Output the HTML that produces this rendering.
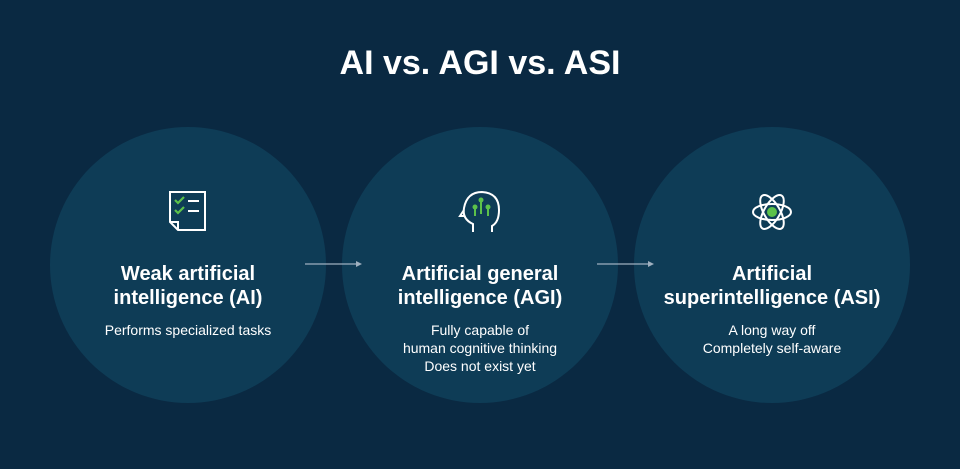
<!DOCTYPE html>
<html><head><style>
html,body{margin:0;padding:0}
body{width:960px;height:469px;background:#0a2942;position:relative;overflow:hidden;font-family:"Liberation Sans",sans-serif;color:#fff}
.title{position:absolute;top:44px;left:0;width:960px;text-align:center;font-size:34px;font-weight:bold;letter-spacing:0px}
.c{position:absolute;top:127px;width:276px;height:276px;border-radius:50%;background:#0e3c56}
.h{position:absolute;top:262px;width:300px;text-align:center;font-size:20px;font-weight:bold;line-height:24px}
.p{position:absolute;width:300px;text-align:center;font-size:14px;line-height:18px}
.ic{position:absolute}
</style></head><body>
<div class="title">AI vs. AGI vs. ASI</div>
<div class="c" style="left:50px"></div>
<div class="c" style="left:342px"></div>
<div class="c" style="left:634px"></div>
<svg width="960" height="469" style="position:absolute;left:0;top:0">
<g stroke="#9fb0bf" stroke-width="1.3" fill="#9fb0bf">
<line x1="305" y1="264" x2="358" y2="264"/><path d="M362 264 L356 261 L356 267Z" stroke="none"/>
<line x1="597" y1="264" x2="650" y2="264"/><path d="M654 264 L648 261 L648 267Z" stroke="none"/>
</g>
<!-- checklist -->
<g fill="none" stroke="#fff" stroke-width="2">
<path d="M170 192 H205 V230 H178 L170 222 Z"/><path d="M170 222 H178 V230"/>
<line x1="188" y1="201" x2="199" y2="201"/><line x1="188" y1="211" x2="199" y2="211"/>
</g>
<g fill="none" stroke="#5cc24a" stroke-width="2.2">
<path d="M175 200 L178 203 L184 197"/><path d="M175 210 L178 213 L184 207"/>
</g>
<!-- head -->
<g fill="none" stroke="#fff" stroke-width="2">
<path d="M473 232 V224 Q462 219 464 208 Q467 192 482 192 Q499 193 499 210 Q499 222 492 226 V232"/>
<path d="M464 210 L460 216 H464"/>
</g>
<g fill="#5cc24a"><circle cx="481" cy="200" r="2.5"/><circle cx="475" cy="207" r="2.5"/><circle cx="488" cy="207" r="2.5"/>
<rect x="480" y="202" width="2" height="12"/><rect x="474" y="209" width="2" height="7"/><rect x="487" y="209" width="2" height="7"/></g>
<!-- atom -->
<g fill="none" stroke="#fff" stroke-width="2">
<ellipse cx="772" cy="212" rx="19" ry="8"/>
<ellipse cx="772" cy="212" rx="19" ry="8" transform="rotate(60 772 212)"/>
<ellipse cx="772" cy="212" rx="19" ry="8" transform="rotate(-60 772 212)"/>
</g>
<circle cx="772" cy="212" r="5" fill="#5cc24a"/>
</svg>
<div class="h" style="left:38px">Weak artificial<br>intelligence (AI)</div>
<div class="p" style="left:38px;top:321px">Performs specialized tasks</div>
<div class="h" style="left:330px">Artificial general<br>intelligence (AGI)</div>
<div class="p" style="left:330px;top:321px">Fully capable of<br>human cognitive thinking<br>Does not exist yet</div>
<div class="h" style="left:622px">Artificial<br>superintelligence (ASI)</div>
<div class="p" style="left:622px;top:321px">A long way off<br>Completely self-aware</div>
</body></html>
